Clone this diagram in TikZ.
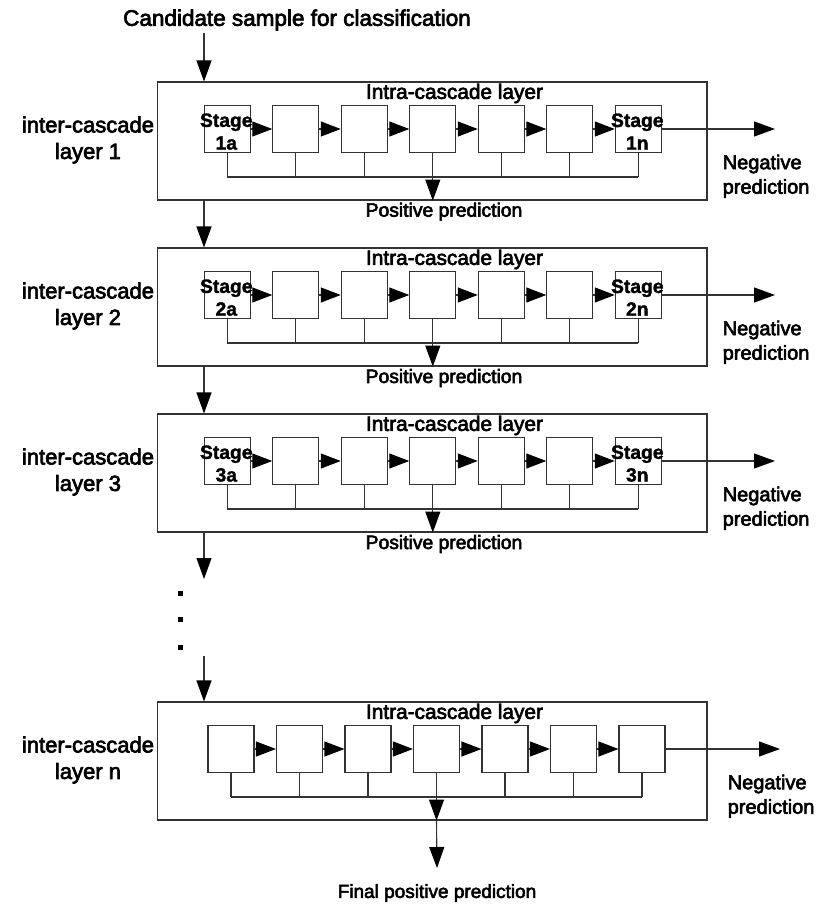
\documentclass[tikz,border=0pt]{standalone}
\usepackage{fontspec}
\setmainfont{Liberation Sans}[BoldFeatures={FakeBold=1.5}]
\newfontfamily\heavyfont{Liberation Sans}[FakeBold=3]
\usetikzlibrary{arrows.meta}
\definecolor{linegray}{HTML}{333333}
\tikzset{
  wire/.style={line width=1.1pt, draw=linegray},
  arr/.style={wire, -{Triangle[length=21pt,width=15pt,color=black]}},
  sarr/.style={wire, -{Triangle[length=20pt,width=15pt,color=black]}},
  layerbox/.style={draw=linegray, line width=1.1pt, minimum width=549.5pt,
    minimum height=118pt, inner sep=0pt},
  stagebox/.style={draw=linegray, line width=1.1pt, minimum width=46pt,
    minimum height=47.5pt, inner sep=0pt},
  stagetxt/.style={font=\bfseries\fontsize{19.3}{22.7}\selectfont, align=center,
    inner sep=0pt},
  txt/.style={inner sep=0pt, font=\heavyfont\fontsize{20}{24}\selectfont},
  sidetxt/.style={inner sep=0pt, align=center, font=\heavyfont\fontsize{22}{26.5}\selectfont},
  negtxt/.style={inner sep=0pt, anchor=north west, align=left,
    font=\heavyfont\fontsize{20}{24.5}\selectfont},
  dotmark/.style={fill=black, minimum size=5pt, inner sep=0pt},
}
\begin{document}
\begin{tikzpicture}[x=1pt,y=-1pt]
  \useasboundingbox (0,0) rectangle (817,904);

  % title and input arrow
  \node[txt, font=\heavyfont\fontsize{22.5}{26}\selectfont] (title) at (297,20)
    {Candidate sample for classification};
  \coordinate (in) at (204,33);

  % the three labelled inter-cascade layers plus the last one
  \foreach \L/\top/\xo/\negx in {1/82/227.3/775, 2/248/227.3/775, 3/414/227.3/775, n/702/231/780} {
    \node[layerbox] (L\L) at (432.25,{\top+59}) {};
    \node[txt, font=\heavyfont\fontsize{20.8}{24}\selectfont] (intra\L) at (454.5,{\top+11.5})
      {Intra-cascade layer};
    \node[sidetxt] (side\L) at (88,{\top+58}) {inter-cascade\\layer \L};
    \foreach \k in {1,...,7}
      \node[stagebox] (b\L-\k) at ({\xo+68.5*(\k-1)},{\top+47}) {};
    \foreach \k [evaluate=\k as \j using int(\k+1)] in {1,...,6}
      \draw[sarr] (b\L-\k.east) -- (b\L-\j.west);
    % collector of the stage outputs
    \coordinate (c\L) at ({\xo+68.5*3},{\top+95});
    \foreach \k in {1,2,3,5,6,7}
      \draw[wire] (b\L-\k.south) -- (b\L-\k.south |- c\L);
    \draw[wire] (b\L-1.south |- c\L) -- (b\L-7.south |- c\L);
    \draw[arr] (b\L-4.south) -- (b\L-4.south |- L\L.south);
    % negative exit
    \coordinate (g\L) at (\negx,{\top+47});
    \draw[arr] (b\L-7.east) -- (g\L);
    \node[negtxt] (neg\L) at ({\negx-52.5},{\top+72.5}) {Negative\\prediction};
  }

  % stage names in the first and last box of the upper layers
  \foreach \L in {1,2,3} {
    \node[stagetxt] (sa\L) at ([xshift=-1pt,yshift=-2.6pt]b\L-1.center) {Stage\\\L a};
    \node[stagetxt] (sn\L) at ([xshift=-1pt,yshift=-2.6pt]b\L-7.center) {Stage\\\L n};
  }
  \node[txt, font=\heavyfont\fontsize{19.3}{24}\selectfont] (pos1) at (444,211.7) {Positive prediction};
  \node[txt, font=\heavyfont\fontsize{19.3}{24}\selectfont] (pos2) at (444,378) {Positive prediction};
  \node[txt, font=\heavyfont\fontsize{19.3}{24}\selectfont] (pos3) at (444,544) {Positive prediction};

  % flow between the layers
  \draw[arr] (in) -- (in |- L1.north);
  \draw[arr] (L1.south -| in) -- (L2.north -| in);
  \draw[arr] (L2.south -| in) -- (L3.north -| in);
  \coordinate (gap) at (204,579);
  \draw[arr] (L3.south -| in) -- (gap);
  \node[dotmark] (d1) at (180,593) {};
  \node[dotmark] (d2) at (180,619) {};
  \node[dotmark] (d3) at (180,647) {};
  \coordinate (resume) at (204,656);
  \draw[arr] (resume) -- (resume |- Ln.north);

  % final output
  \coordinate (fin) at (437,868);
  \draw[arr] (Ln.south -| bn-4) -- (fin);
  \node[txt, font=\heavyfont\fontsize{19}{24}\selectfont] (final) at (437,893) {Final positive prediction};
\end{tikzpicture}
\end{document}
